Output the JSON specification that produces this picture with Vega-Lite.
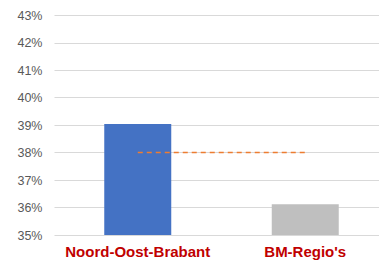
{
  "$schema": "https://vega.github.io/schema/vega-lite/v6.json",
  "autosize": "none",
  "width": 325,
  "height": 220,
  "padding": {"left": 54, "top": 15, "right": 0, "bottom": 27},
  "background": "white",
  "config": {
    "view": {"stroke": null},
    "font": "Liberation Sans"
  },
  "layer": [
    {
      "data": {"values": [
        {"regio": "Noord-Oost-Brabant", "waarde": 0.3904},
        {"regio": "BM-Regio's", "waarde": 0.3612}
      ]},
      "mark": {"type": "bar", "clip": true},
      "encoding": {
        "x": {
          "field": "regio", "type": "nominal",
          "scale": {"domain": ["Noord-Oost-Brabant", "BM-Regio's"], "range": [0, 335], "paddingInner": 0.6, "paddingOuter": 0.3},
          "axis": {"title": null, "labelAngle": 0, "domain": false, "ticks": false, "labelPadding": 9, "labelFont": "Liberation Sans", "labelFontSize": 15, "labelFontWeight": "bold", "labelColor": "#c00000"}
        },
        "y": {
          "field": "waarde", "type": "quantitative",
          "scale": {"domain": [0.35, 0.43], "nice": false, "zero": false},
          "axis": {"title": null, "format": ".0%", "values": [0.35, 0.36, 0.37, 0.38, 0.39, 0.40, 0.41, 0.42, 0.43], "labelOverlap": false, "domain": false, "ticks": false, "labelPadding": 12, "labelFont": "Liberation Sans", "labelFontSize": 12.5, "labelColor": "#595959", "gridColor": "#d9d9d9", "gridWidth": 1}
        },
        "color": {
          "field": "regio", "type": "nominal",
          "scale": {"domain": ["Noord-Oost-Brabant", "BM-Regio's"], "range": ["#4472c4", "#bfbfbf"]},
          "legend": null
        }
      }
    },
    {
      "data": {"values": [
        {"van": "Noord-Oost-Brabant", "tot": "BM-Regio's", "gemiddelde": 0.38}
      ]},
      "mark": {"type": "rule", "color": "#ed7d31", "strokeWidth": 1.5, "strokeDash": [5, 4]},
      "encoding": {
        "x": {"field": "van", "type": "nominal",
          "axis": {"title": null, "labelAngle": 0, "domain": false, "ticks": false, "labelPadding": 9, "labelFont": "Liberation Sans", "labelFontSize": 15, "labelFontWeight": "bold", "labelColor": "#c00000"}},
        "x2": {"field": "tot"},
        "y": {"field": "gemiddelde", "type": "quantitative",
          "axis": {"title": null, "format": ".0%", "values": [0.35, 0.36, 0.37, 0.38, 0.39, 0.40, 0.41, 0.42, 0.43], "labelOverlap": false, "domain": false, "ticks": false, "labelPadding": 12, "labelFont": "Liberation Sans", "labelFontSize": 12.5, "labelColor": "#595959", "gridColor": "#d9d9d9", "gridWidth": 1}}
      }
    }
  ]
}
